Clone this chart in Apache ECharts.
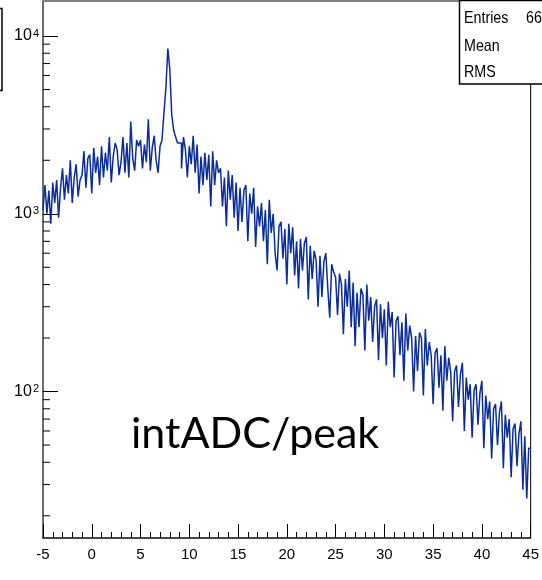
<!DOCTYPE html>
<html>
<head>
<meta charset="utf-8">
<script src="https://cdn.jsdelivr.net/npm/echarts@6/dist/echarts.min.js"></script>
<style>
html,body{margin:0;padding:0;background:#fff;}
#chart{width:542px;height:580px;}
</style>
</head>
<body>
<div id="chart"></div>
<script>
// Histogram binning (x from -5 to 45, 250 bins of 0.2)
const binStart = -5;
const binWidth = 0.2;

// Bin contents (groups of 10 bins = 2 units each)
const counts = [
  1050, 1450, 1000, 1350, 880, 1500, 1150, 1550, 950, 1400,    // -5 .. -3
  1800, 1200, 1650, 1300, 2000, 1150, 1600, 1900, 1250, 1550,  // -3 .. -1
  1650, 2250, 1400, 2050, 2150, 1300, 2350, 1700, 2100, 1450,  // -1 .. 1
  2400, 1600, 2200, 1750, 2700, 1500, 2100, 2500, 2300, 1650,  // 1 .. 3
  1950, 2700, 1700, 2500, 1600, 3300, 2050, 1750, 2600, 2400,  // 3 .. 5
  2600, 1800, 2450, 1950, 3400, 1750, 2350, 2750, 2000, 1700,  // 5 .. 7
  2400, 2600, 3700, 5100, 8500, 6500, 3600, 2950, 2700, 2500,  // 7 .. 9
  2500, 1800, 2700, 2300, 1600, 2400, 1900, 2750, 1700, 2450,  // 9 .. 11
  1300, 2100, 1450, 2200, 1550, 2150, 1100, 2250, 1450, 2000,  // 11 .. 13
  1700, 1800, 1100, 1600, 850, 1750, 1200, 1650, 950, 1500,    // 13 .. 15
  800, 1400, 900, 1350, 1450, 700, 1300, 1000, 1400, 650,      // 15 .. 17
  1100, 850, 1150, 700, 1050, 520, 1200, 780, 1000, 600,       // 17 .. 19
  480, 850, 900, 560, 820, 400, 880, 600, 840, 450,            // 19 .. 21
  700, 380, 720, 480, 680, 740, 330, 660, 430, 620,            // 21 .. 23
  550, 300, 580, 340, 540, 600, 380, 260, 520, 470,            // 23 .. 25
  440, 270, 460, 400, 210, 430, 300, 480, 230, 410,            // 25 .. 27
  180, 360, 230, 380, 350, 170, 400, 250, 340, 190,            // 27 .. 29
  300, 330, 150, 310, 200, 290, 140, 320, 230, 280,            // 29 .. 31
  120, 250, 265, 160, 245, 115, 275, 170, 235, 200,            // 31 .. 33
  100, 205, 130, 215, 200, 95, 225, 140, 190, 160,             // 33 .. 35
  85, 165, 175, 105, 160, 78, 180, 115, 155, 130,              // 35 .. 37
  68, 130, 140, 82, 125, 145, 60, 120, 90, 110,                // 37 .. 39
  55, 102, 110, 65, 98, 115, 48, 95, 70, 88,                   // 39 .. 41
  42, 80, 85, 50, 76, 88, 37, 74, 55, 70,                      // 41 .. 43
  33, 62, 66, 38, 58, 68, 28, 56, 25, 48                       // 43 .. 45
];

// Axis settings / tick values
const xMin = -5, xMax = 45, xStep = 5;
const yMin = 15, yMax = 15740;
const yMajorTicks = [100, 1000, 10000];
const yMinorTicks = [20, 30, 40, 50, 60, 70, 80, 90,
                     200, 300, 400, 500, 600, 700, 800, 900,
                     2000, 3000, 4000, 5000, 6000, 7000, 8000, 9000];

// Stats box texts
const statsLabels = ['Entries', 'Mean', 'RMS'];
const statsValues = ['66', '', ''];
const overlayText = 'intADC/peak';

const rootFont = "'Liberation Sans', Arial, sans-serif";
const lineColor = '#0b2d9b';

const histData = counts.map((c, i) => [binStart + i * binWidth, c]);
histData.push([binStart + counts.length * binWidth, counts[counts.length - 1]]);

const chart = echarts.init(document.getElementById('chart'), null, {renderer: 'canvas'});

const statsGraphics = [];
statsGraphics.push({
  type: 'rect', z: 100,
  shape: {x: 459.5, y: 0.5, width: 100, height: 83.5},
  style: {fill: '#fff', stroke: '#000', lineWidth: 1.5}
});
const rowY = [18, 46, 72];
statsLabels.forEach((t, i) => {
  statsGraphics.push({type: 'text', z: 101, x: 464, y: rowY[i], scaleX: 0.84,
    style: {text: t, font: '17px ' + rootFont, fill: '#000', verticalAlign: 'middle', align: 'left'}});
  if (statsValues[i]) {
    statsGraphics.push({type: 'text', z: 101, x: 526, y: rowY[i], scaleX: 0.84,
      style: {text: statsValues[i], font: '17px ' + rootFont, fill: '#000', verticalAlign: 'middle', align: 'left'}});
  }
});

chart.setOption({
  animation: false,
  backgroundColor: '#fff',
  grid: {left: 43, right: 7, top: 1, bottom: 42, show: true, borderColor: '#000', borderWidth: 1, backgroundColor: 'transparent'},
  xAxis: {
    type: 'value', min: xMin, max: xMax, interval: xStep,
    axisLine: {show: true, onZero: false, lineStyle: {color: '#333', width: 1.5}},
    axisTick: {show: true, inside: true, length: 14, lineStyle: {color: '#000', width: 1}},
    minorTick: {show: true, splitNumber: 5, length: 6, lineStyle: {color: '#000', width: 1}},
    splitLine: {show: false},
    axisLabel: {margin: 9, fontSize: 15, fontFamily: rootFont, color: '#000'}
  },
  yAxis: {
    type: 'log', logBase: 10, min: yMin, max: yMax,
    axisLine: {show: true, onZero: false, lineStyle: {color: '#666', width: 1.5}},
    axisTick: {show: true, inside: true, length: 15, lineStyle: {color: '#000', width: 1}},
    splitLine: {show: false},
    axisLabel: {
      margin: 4, color: '#000', fontFamily: rootFont,
      showMinLabel: false, showMaxLabel: false,
      formatter: function (v) {
        const idx = yMajorTicks.findIndex(t => Math.abs(t - v) / t < 1e-6);
        if (idx < 0) return '';
        const e = Math.round(Math.log10(yMajorTicks[idx]));
        return '{b|10}{s|' + e + '}';
      },
      rich: {
        b: {fontSize: 16, fontFamily: rootFont, color: '#000', verticalAlign: 'bottom'},
        s: {fontSize: 11, fontFamily: rootFont, color: '#000', verticalAlign: 'top', padding: [0, 0, 0, 1]}
      }
    }
  },
  series: [
    {
      type: 'line', step: 'end', data: histData, showSymbol: false, symbol: 'none',
      lineStyle: {color: lineColor, width: 1.5}, z: 3
    },
    {
      type: 'custom', silent: true, z: 4, clip: false,
      data: yMinorTicks.map(v => [xMin, v]),
      renderItem: function (params, api) {
        const p = api.coord([api.value(0), api.value(1)]);
        return {type: 'line', shape: {x1: p[0], y1: p[1], x2: p[0] + 7, y2: p[1]},
                style: {stroke: '#000', lineWidth: 1}};
      }
    }
  ],
  graphic: [
    {type: 'rect', z: 100, shape: {x: -20, y: 8.5, width: 22, height: 82},
     style: {fill: 'none', stroke: '#000', lineWidth: 1.5}},
    ...statsGraphics,
    {type: 'text', z: 100, x: 131, y: 434,
     style: {text: overlayText, font: '43px Lato, "Open Sans", sans-serif', fill: '#000', verticalAlign: 'middle', align: 'left'}}
  ]
});
</script>
</body>
</html>
